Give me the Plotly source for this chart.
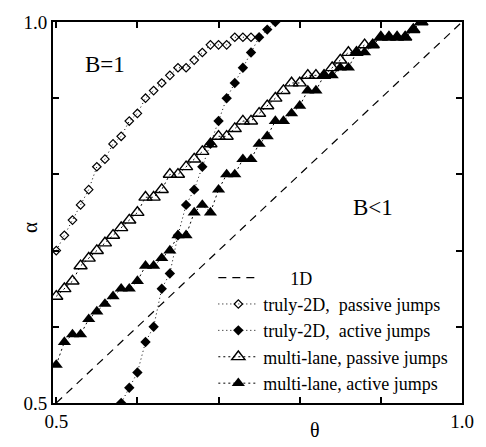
import plotly.graph_objects as go

# theta grid (step 0.01) and alpha values for each model
theta_2d_passive = [0.50, 0.51, 0.52, 0.53, 0.54, 0.55, 0.56, 0.57, 0.58, 0.59,
                    0.60, 0.61, 0.62, 0.63, 0.64, 0.65, 0.66, 0.67, 0.68, 0.69,
                    0.70, 0.71, 0.72, 0.73, 0.74]
alpha_2d_passive = [0.70, 0.72, 0.74, 0.76, 0.78, 0.81, 0.82, 0.84, 0.85, 0.87,
                    0.88, 0.90, 0.91, 0.92, 0.93, 0.94, 0.94, 0.95, 0.96, 0.97,
                    0.97, 0.97, 0.98, 0.98, 0.98]

theta_2d_active = [0.58, 0.59, 0.60, 0.61, 0.62, 0.63, 0.64, 0.65, 0.66, 0.67,
                   0.68, 0.69, 0.70, 0.71, 0.72, 0.73, 0.74, 0.75, 0.76, 0.77]
alpha_2d_active = [0.50, 0.52, 0.54, 0.58, 0.60, 0.65, 0.67, 0.72, 0.76, 0.78,
                   0.81, 0.84, 0.87, 0.90, 0.92, 0.94, 0.96, 0.98, 0.99, 1.00]

theta_ml = [0.50, 0.51, 0.52, 0.53, 0.54, 0.55, 0.56, 0.57, 0.58, 0.59,
            0.60, 0.61, 0.62, 0.63, 0.64, 0.65, 0.66, 0.67, 0.68, 0.69,
            0.70, 0.71, 0.72, 0.73, 0.74, 0.75, 0.76, 0.77, 0.78, 0.79,
            0.80, 0.81, 0.82, 0.83, 0.84, 0.85, 0.86, 0.87, 0.88, 0.89,
            0.90, 0.91, 0.92, 0.93, 0.94, 0.95]
alpha_ml_passive = [0.64, 0.65, 0.66, 0.68, 0.69, 0.70, 0.71, 0.72, 0.73, 0.74,
                    0.75, 0.77, 0.77, 0.78, 0.80, 0.80, 0.81, 0.82, 0.83, 0.84,
                    0.85, 0.85, 0.86, 0.87, 0.87, 0.88, 0.89, 0.90, 0.91, 0.92,
                    0.92, 0.93, 0.93, 0.93, 0.94, 0.95, 0.96, 0.96, 0.97, 0.97,
                    0.98, 0.98, 0.98, 0.98, 0.99, 1.00]
alpha_ml_active = [0.55, 0.58, 0.59, 0.59, 0.61, 0.62, 0.63, 0.64, 0.65, 0.65,
                   0.66, 0.68, 0.68, 0.69, 0.70, 0.72, 0.72, 0.75, 0.76, 0.75,
                   0.78, 0.80, 0.80, 0.82, 0.82, 0.84, 0.85, 0.87, 0.87, 0.88,
                   0.89, 0.91, 0.91, 0.93, 0.93, 0.94, 0.94, 0.96, 0.96, 0.97,
                   0.98, 0.98, 0.98, 0.98, 0.99, 1.00]

line_1d = [0.5, 1.0]

tick_vals = [0.5, 0.6, 0.7, 0.8, 0.9, 1.0]
tick_text = ["0.5", "", "", "", "", "1.0"]

NB = "\u00a0"
names = [NB * 6 + "1D",
         "truly-2D," + NB + " passive jumps",
         "truly-2D," + NB + " active jumps",
         "multi-lane, passive jumps",
         "multi-lane, active jumps"]

SERIF = "Liberation Serif, Times New Roman, serif"
BLACK = "black"

fig = go.Figure()

fig.add_trace(go.Scatter(
    x=line_1d, y=line_1d, mode="lines", name=names[0], legendgroup="g0",
    line=dict(color=BLACK, width=1.2, dash="8px,6px")))

fig.add_trace(go.Scatter(
    x=theta_2d_passive, y=alpha_2d_passive, mode="lines+markers",
    name=names[1], legendgroup="g1",
    line=dict(color=BLACK, width=1, dash="1px,3px"),
    marker=dict(symbol="diamond-open", size=6.5, color=BLACK,
                line=dict(width=1.2, color=BLACK))))

fig.add_trace(go.Scatter(
    x=theta_2d_active, y=alpha_2d_active, mode="lines+markers",
    name=names[2], legendgroup="g2",
    line=dict(color=BLACK, width=1, dash="1px,3px"),
    marker=dict(symbol="diamond", size=8, color=BLACK)))

fig.add_trace(go.Scatter(
    x=theta_ml, y=alpha_ml_passive, mode="lines+markers",
    name=names[3], legendgroup="g3",
    line=dict(color=BLACK, width=1, dash="2px,3px"),
    marker=dict(symbol="triangle-up-open", size=11.5, color=BLACK,
                line=dict(width=1.4, color=BLACK))))

fig.add_trace(go.Scatter(
    x=theta_ml, y=alpha_ml_active, mode="lines+markers",
    name=names[4], legendgroup="g4",
    line=dict(color=BLACK, width=1, dash="2px,3px"),
    marker=dict(symbol="triangle-up", size=11.5, color=BLACK)))

axis_common = dict(
    showgrid=False, zeroline=False, showline=True, linecolor=BLACK,
    linewidth=2, mirror="ticks", ticks="inside", ticklen=6, tickwidth=1.5,
    tickcolor=BLACK, tickvals=tick_vals, ticktext=tick_text,
    tickfont=dict(family=SERIF, size=19, color=BLACK))

fig.update_xaxes(range=[0.496, 1.0], **axis_common)
fig.update_yaxes(range=[0.5, 1.0], **axis_common)

fig.update_layout(
    width=486, height=447,
    margin=dict(l=53, r=14, t=17, b=44),
    paper_bgcolor="white", plot_bgcolor="white",
    font=dict(family=SERIF, color=BLACK),
    showlegend=True,
    legend=dict(
        x=0.392, y=0.377, xanchor="left", yanchor="top",
        bgcolor="rgba(0,0,0,0)", borderwidth=0,
        font=dict(family=SERIF, size=18, color=BLACK),
        itemwidth=40, tracegroupgap=0, traceorder="grouped"),
    annotations=[
        dict(text="B=1", x=0.56, y=0.944, xref="x", yref="y", showarrow=False,
             font=dict(family=SERIF, size=23, color=BLACK)),
        dict(text="B<1", x=0.89, y=0.756, xref="x", yref="y", showarrow=False,
             font=dict(family=SERIF, size=23, color=BLACK)),
        dict(text="θ", x=0.64, y=-0.07, xref="paper", yref="paper",
             showarrow=False, yanchor="middle",
             font=dict(family=SERIF, size=20, color=BLACK)),
        dict(text="α", x=-0.09, y=0.46, xref="paper", yref="paper",
             showarrow=False, textangle=-90,
             font=dict(family=SERIF, size=21, color=BLACK)),
    ],
)

fig.write_html("out.html")
